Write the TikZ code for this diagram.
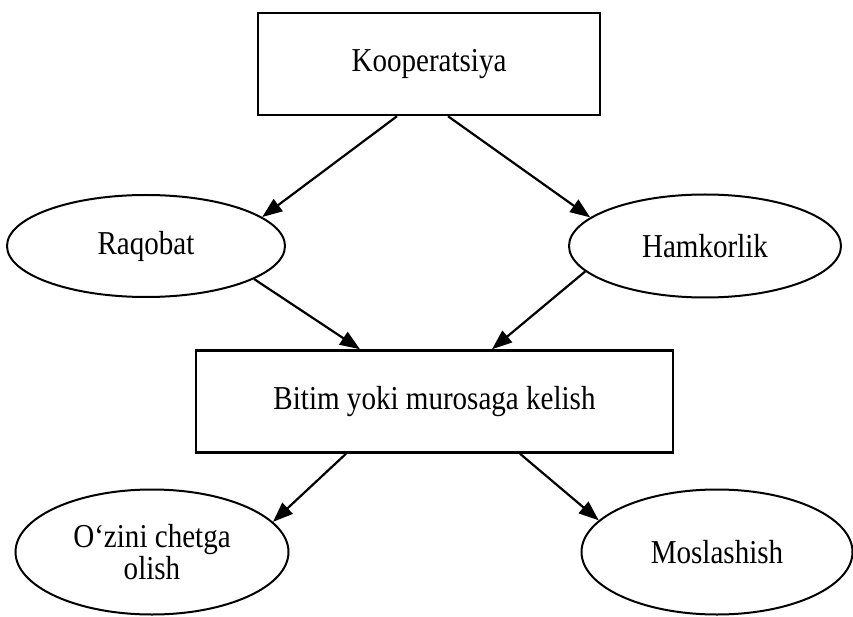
\documentclass[tikz,border=0pt]{standalone}
\usepackage{fontspec}
\setmainfont{Liberation Serif}[FakeStretch=0.87]
\usetikzlibrary{arrows.meta,shapes.geometric}

\begin{document}
\begin{tikzpicture}[x=1pt,y=-1pt,
  box/.style={draw, line width=2.5pt, rectangle, minimum height=102pt},
  oval/.style={draw, line width=2pt, ellipse, inner sep=0pt},
  arr/.style={line width=2.2pt, -{Triangle[length=20pt,width=15pt]}},
  font=\fontsize{33.4}{32}\selectfont]
% Parameters
\def\ytop{64}; \def\ymid{246};
\def\ybit{401.5}; \def\ylow{552};

\useasboundingbox (0,0) rectangle (853,617);

% Nodes
\node[box, minimum width=342pt] (koop) at (429,\ytop) {Kooperatsiya};
\node[oval, minimum width=278pt, minimum height=102pt] (raq) at (146,\ymid) {Raqobat};
\node[oval, minimum width=272pt, minimum height=103pt] (ham) at (705,\ymid) {Hamkorlik};
\node[box, minimum width=477pt] (bitim) at (434.5,\ybit) {Bitim yoki murosaga kelish};
\node[oval, minimum width=273pt, minimum height=125pt, align=center] (ozini) at (152,\ylow) {O‘zini chetga\\olish};
\node[oval, minimum width=271pt, minimum height=125pt] (mosl) at (717,\ylow) {Moslashish};

% Arrows
\draw[arr] ([xshift=-32pt]koop.south) -- (raq.14.5);
\draw[arr] ([xshift=19pt]koop.south) -- (ham.166.4);
\draw[arr] (raq.-17.8) -- ([xshift=-74.5pt]bitim.north);
\draw[arr] (ham.192.2) -- ([xshift=57.5pt]bitim.north);
\draw[arr] ([xshift=-88.5pt]bitim.south) -- (ozini.14.6);
\draw[arr] ([xshift=85.5pt]bitim.south) -- (mosl.165.6);
\end{tikzpicture}
\end{document}
